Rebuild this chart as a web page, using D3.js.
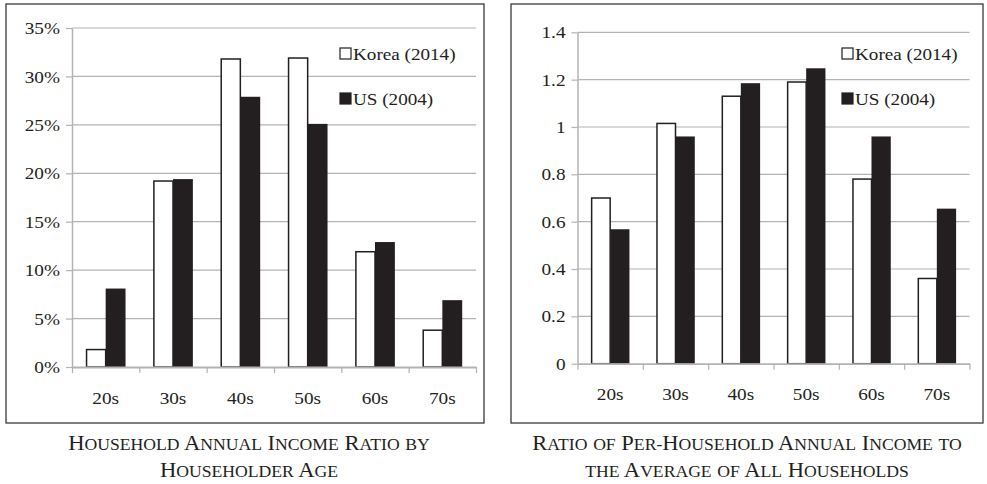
<!DOCTYPE html>
<html>
<head>
<meta charset="utf-8">
<script src="https://cdn.jsdelivr.net/npm/d3@7"></script>
<style>
  html, body { margin: 0; padding: 0; background: #fff; }
  svg { display: block; }
  svg text { font-family: "Liberation Serif", serif; }
</style>
</head>
<body>
<svg id="chart" width="987" height="484"></svg>
<script>
// ---- data ----
const categories = ["20s", "30s", "40s", "50s", "60s", "70s"];
const seriesNames = ["Korea (2014)", "US (2004)"];
const shareKorea = [0.018, 0.192, 0.318, 0.319, 0.119, 0.038];
const shareUS    = [0.081, 0.194, 0.279, 0.251, 0.129, 0.069];
const ratioKorea = [0.70, 1.015, 1.13, 1.19, 0.78, 0.36];
const ratioUS    = [0.568, 0.96, 1.185, 1.248, 0.96, 0.655];
const leftTicks  = [0, 0.05, 0.10, 0.15, 0.20, 0.25, 0.30, 0.35];
const rightTicks = [0, 0.2, 0.4, 0.6, 0.8, 1.0, 1.2, 1.4];
const leftTitle  = ["Household Annual Income Ratio by", "Householder Age"];
const rightTitle = ["Ratio of Per-Household Annual Income to", "the Average of All Households"];

const ink = "#231f20";
const gridColor = "#b3b3b3";
const FONT = "'Liberation Serif', serif";
const svg = d3.select("#chart");

function stretch(sel, sx = 1.1) {
  sel.each(function () {
    const t = d3.select(this);
    const x = +t.attr("x") || 0, y = +t.attr("y") || 0;
    t.attr("transform", `translate(${x},${y}) scale(${sx},1)`).attr("x", 0).attr("y", 0);
  });
}

function smallCaps(textSel, str, big, small) {
  let runs = [];
  for (const ch of str) {
    const size = (ch !== ch.toLowerCase() || ch === " ") ? big : small;
    const disp = ch.toUpperCase();
    if (runs.length && runs[runs.length - 1].size === size) runs[runs.length - 1].t += disp;
    else runs.push({ size, t: disp });
  }
  textSel.selectAll("tspan").data(runs).join("tspan")
    .attr("font-size", d => d.size).attr("font-family", FONT).text(d => d.t);
}

function panel(cfg) {
  const g = svg.append("g").attr("font-family", FONT);
  g.append("rect").attr("x", cfg.box[0]).attr("y", cfg.box[1])
    .attr("width", cfg.box[2] - cfg.box[0]).attr("height", cfg.box[3] - cfg.box[1])
    .attr("fill", "none").attr("stroke", "#3a3a3a").attr("stroke-width", 1.3);

  const x = d3.scaleBand().domain(categories).range([cfg.x0, cfg.x1]).paddingInner(0.41).paddingOuter(0.205);
  const xs = d3.scaleBand().domain(seriesNames).range([0, x.bandwidth()]);
  const y = d3.scaleLinear().domain([0, cfg.max]).range([cfg.y0, cfg.y1]);

  g.append("g").selectAll("line").data(cfg.ticks.slice(1)).join("line")
    .attr("x1", cfg.x0).attr("x2", cfg.x1)
    .attr("y1", d => y(d)).attr("y2", d => y(d))
    .attr("stroke", gridColor).attr("stroke-width", 1.2);

  const yAxis = g.append("g").attr("transform", `translate(${cfg.x0},0)`)
    .call(d3.axisLeft(y).tickValues(cfg.ticks).tickFormat(cfg.fmt).tickSize(6).tickPadding(6).tickSizeOuter(0));
  yAxis.attr("font-family", FONT);
  yAxis.select(".domain").attr("stroke", gridColor).attr("stroke-width", 1.5);
  yAxis.selectAll(".tick line").attr("stroke", gridColor).attr("stroke-width", 1.2);
  yAxis.selectAll(".tick text").attr("fill", ink).attr("font-size", 17.5).attr("font-family", FONT).call(stretch);

  const data = categories.map((c, i) => ({ c, vals: [cfg.a[i], cfg.b[i]] }));
  const groups = g.append("g").selectAll("g").data(data).join("g")
    .attr("transform", d => `translate(${x(d.c)},0)`);
  groups.selectAll("rect").data(d => d.vals.map((v, k) => ({ v, s: seriesNames[k] }))).join("rect")
    .attr("x", d => xs(d.s) + (d.s === seriesNames[0] ? 0.75 : 0))
    .attr("width", d => xs.bandwidth() - (d.s === seriesNames[0] ? 0.75 : 0))
    .attr("y", d => y(d.v))
    .attr("height", d => y(0) - y(d.v))
    .attr("fill", d => d.s === seriesNames[0] ? "#fff" : ink)
    .attr("stroke", d => d.s === seriesNames[0] ? ink : "none")
    .attr("stroke-width", 1.5);

  const xLin = d3.scaleLinear().domain([0, categories.length]).range([cfg.x0, cfg.x1]);
  const xAxis = g.append("g").attr("transform", `translate(0,${cfg.y0})`)
    .call(d3.axisBottom(xLin).ticks(categories.length).tickFormat("").tickSize(6).tickSizeOuter(0));
  xAxis.select(".domain").attr("stroke", gridColor).attr("stroke-width", 1.8);
  xAxis.selectAll(".tick line").attr("stroke", gridColor).attr("stroke-width", 1.2);
  g.append("g").selectAll("text").data(categories).join("text")
    .attr("x", d => x(d) + x.bandwidth() / 2).attr("y", cfg.labelY)
    .attr("text-anchor", "middle").attr("font-size", 17.5).attr("font-family", FONT)
    .attr("fill", ink).text(d => d).call(stretch);

  const lg = g.append("g");
  seriesNames.forEach((s, k) => {
    const ly = cfg.legY[k];
    lg.append("rect").attr("x", cfg.legX).attr("y", ly - 12).attr("width", 11).attr("height", 11)
      .attr("fill", k === 0 ? "#fff" : ink).attr("stroke", ink).attr("stroke-width", 1.2);
    lg.append("text").attr("x", cfg.legX + 13).attr("y", ly).attr("font-size", 17.4)
      .attr("font-family", FONT).attr("fill", ink).text(s).call(stretch);
  });

  cfg.title.forEach((line, k) => {
    const t = g.append("text").attr("x", cfg.titleX).attr("y", cfg.titleY[k])
      .attr("text-anchor", "middle").attr("fill", ink).attr("font-family", FONT);
    smallCaps(t, line, 21.5, 16.8);
    stretch(t, 1.05);
  });
}

panel({
  box: [6, 4, 484, 423], x0: 72, x1: 476, y0: 367, y1: 28, max: 0.35,
  ticks: leftTicks, fmt: d3.format(".0%"), a: shareKorea, b: shareUS,
  labelY: 404, legX: 340, legY: [60, 105],
  title: leftTitle, titleX: 249, titleY: [450, 477]
});
panel({
  box: [511, 4, 983, 423], x0: 577.5, x1: 969.5, y0: 363.7, y1: 32.3, max: 1.4,
  ticks: rightTicks, fmt: d => d3.format("")(+d.toFixed(1)), a: ratioKorea, b: ratioUS,
  labelY: 400, legX: 842, legY: [60, 105],
  title: rightTitle, titleX: 747, titleY: [450, 477]
});
</script>
</body>
</html>
